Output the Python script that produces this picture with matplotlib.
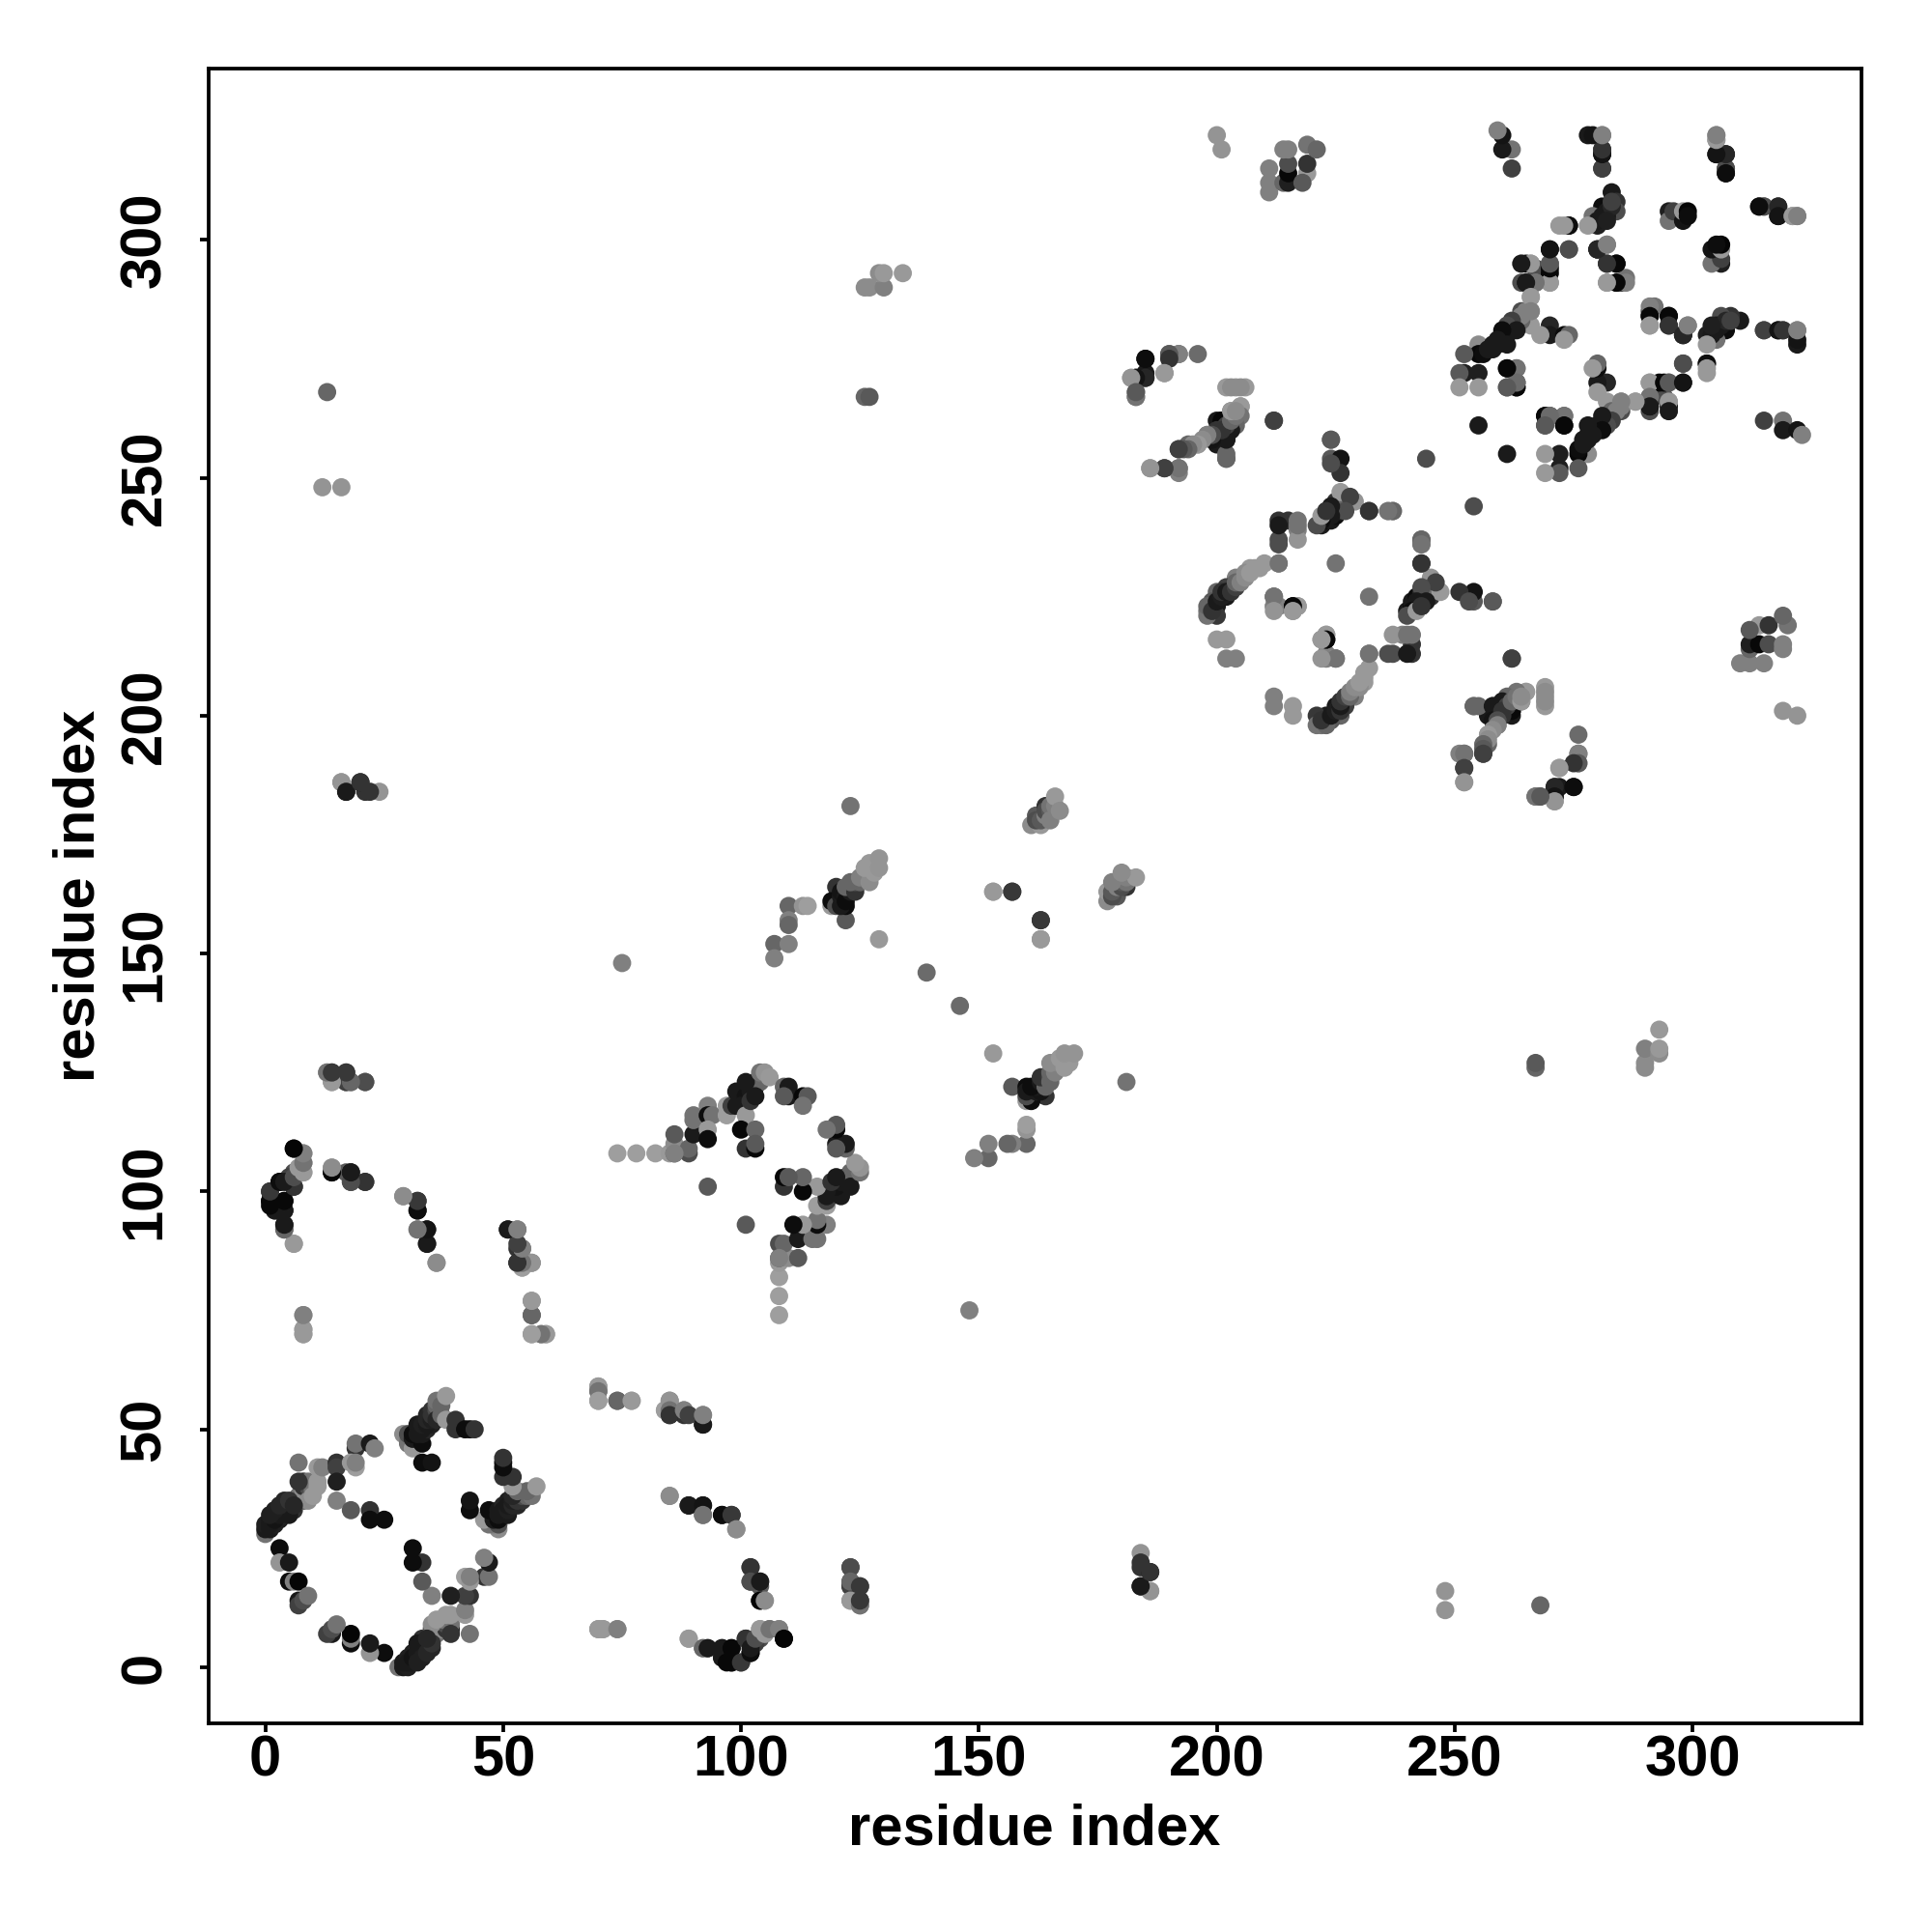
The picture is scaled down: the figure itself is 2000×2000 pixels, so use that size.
import matplotlib
matplotlib.use("Agg")
import matplotlib.pyplot as plt

# contacts as (residue i, residue j, grey level), i < j; the map is symmetric
first_domain = [
    (0, 28, .45), (0, 29, .1), (0, 30, .12), (1, 29, .1), (1, 31, .1), (2, 30, .12), (2, 32, .1),
    (3, 31, .12), (3, 33, .08), (4, 32, .15), (4, 34, .1), (5, 33, .12), (5, 34, .2), (6, 33, .2),
    (6, 35, .2), (7, 36, .45), (7, 35, .3), (8, 35, .35), (8, 37, .55), (8, 38, .2), (8, 39, .15),
    (9, 38, .3), (9, 39, .45), (9, 35, .55), (10, 37, .45), (10, 36, .6), (11, 38, .6), (7, 39, .2),
    (11, 39, .6), (11, 42, .6), (12, 42, .5), (7, 43, .45), (15, 43, .2), (15, 42, .25), (15, 39, .12),
    (15, 35, .5), (18, 33, .35), (22, 33, .2), (22, 31, .05), (25, 31, .05), (19, 46, .2), (19, 47, .45),
    (22, 47, .1), (23, 46, .5), (19, 42, .62), (18, 43, .6), (19, 43, .5), (3, 25, .05), (3, 22, .58),
    (5, 22, .1), (5, 18, .05), (6, 18, .5), (7, 18, .02), (7, 14, .1), (7, 13, .25), (8, 14, .3), (9, 15, .45),
    (1, 30, .1), (2, 31, .08), (3, 32, .1), (4, 33, .1), (5, 32, .1), (1, 32, .12), (2, 33, .12), (3, 34, .15),
    (4, 35, .15), (5, 35, .2), (6, 34, .15),
    (29, 49, .55), (30, 48, .5), (30, 47, .45), (30, 49, .3), (31, 46, .6), (31, 48, .1), (31, 49, .05),
    (32, 51, .1), (33, 47, .05), (33, 49, .1), (34, 50, .15), (34, 53, .15), (35, 51, .12), (35, 54, .2),
    (32, 49, .1), (33, 50, .1), (33, 51, .12), (34, 51, .1), (34, 52, .15), (35, 52, .12), (35, 53, .2),
    (36, 54, .3), (36, 55, .4),
    (36, 52, .15), (36, 56, .45), (37, 55, .4), (37, 53, .4), (38, 52, .6), (38, 57, .6), (40, 52, .2),
    (40, 50, .2), (42, 50, .05), (43, 50, .05), (44, 50, .2), (33, 43, .05), (35, 43, .08),
]
cross_domain = [
    (13, 125, .55), (14, 125, .2), (17, 125, .3), (14, 123, .6), (17, 123, .3), (18, 123, .4), (21, 123, .35),
    (6, 109, .03), (8, 108, .58), (8, 106, .45), (8, 104, .6), (7, 104, .55), (6, 104, .3), (5, 103, .25),
    (6, 101, .15), (3, 102, .03), (1, 100, .3), (4, 98, .03), (1, 98, .05), (2, 96, .3), (4, 96, .1),
    (4, 93, .1), (4, 92, .45), (6, 89, .62), (14, 104, .03), (14, 105, .62), (17, 104, .35), (18, 102, .3),
    (18, 104, .1), (21, 102, .2), (29, 99, .55), (32, 96, .05), (32, 98, .2), (32, 92, .5), (34, 89, .08),
    (34, 92, .05), (36, 85, .55), (51, 92, .1), (53, 92, .5), (53, 88, .2), (54, 88, .5), (53, 85, .1),
    (54, 84, .62), (54, 85, .5), (56, 85, .5), (56, 77, .6), (56, 74, .4), (56, 70, .6), (58, 70, .5),
    (59, 70, .6), (8, 74, .55), (8, 71, .6), (8, 70, .6),
    (70, 59, .6), (70, 58, .45), (70, 56, .62), (74, 56, .4), (77, 56, .6), (84, 54, .62), (85, 56, .58),
    (85, 54, .45), (85, 53, .2), (88, 54, .5), (89, 53, .25), (92, 51, .1), (92, 53, .5),
    (85, 36, .55), (89, 34, .1), (92, 34, .08), (92, 32, .45), (96, 32, .05), (98, 32, .22), (99, 29, .55),
    (102, 21, .2), (102, 18, .3), (104, 18, .1), (104, 14, .02), (105, 14, .55),
    (123, 21, .3), (123, 17, .25), (123, 18, .4), (125, 17, .22), (123, 14, .6), (125, 13, .45), (125, 14, .22),
    (70, 8, .6), (71, 8, .6), (74, 8, .5), (89, 6, .6), (92, 4, .4), (93, 4, .1), (96, 2, .1), (96, 4, .1),
    (98, 4, .03), (97, 1, .03), (98, 1, .03), (100, 1, .22), (102, 3, .05), (101, 6, .2), (102, 4, .1),
    (103, 6, .3), (104, 8, .6), (105, 7, .6), (106, 8, .45), (108, 8, .5), (109, 6, .02),
    (184, 24, .58), (184, 21, .2), (184, 17, .1), (186, 20, .1), (186, 16, .58), (16, 186, .58), (17, 184, .1),
    (20, 186, .2), (22, 184, .2), (148, 75, .5), (13, 268, .4), (12, 248, .58), (16, 248, .58),
]
second_domain = [
    (74, 108, .62), (78, 108, .62), (82, 108, .62), (85, 108, .6), (86, 108, .35), (86, 110, .55), (86, 112, .35),
    (89, 108, .3), (89, 109, .4), (90, 112, .1), (90, 116, .45), (90, 115, .45), (93, 118, .5), (93, 116, .05),
    (94, 116, .45), (93, 113, .6), (93, 111, .05), (97, 118, .62), (97, 116, .62), (98, 118, .25), (99, 121, .1),
    (99, 118, .1), (100, 120, .1), (101, 120, .08), (102, 121, .1), (102, 122, .1), (103, 122, .1), (103, 123, .3),
    (104, 124, .5), (105, 124, .6), (104, 123, .4),
    (100, 118, .1), (101, 116, .6), (101, 123, .1), (102, 119, .2), (103, 120, .1), (100, 113, .03), (103, 113, .4),
    (101, 109, .2), (103, 109, .03), (103, 110, .35), (104, 125, .45), (105, 125, .58), (106, 124, .6),
    (109, 122, .4), (110, 122, .1), (110, 120, .1), (109, 120, .35), (113, 120, .03), (114, 120, .35),
    (113, 118, .45), (93, 101, .35), (108, 86, .5),
]
helix_contacts = [
    (123, 181, .45), (110, 160, .4), (113, 160, .58), (114, 160, .62), (110, 157, .5), (110, 156, .4),
    (107, 152, .4), (110, 152, .5), (107, 149, .5), (122, 157, .35), (119, 160, .6), (120, 161, .1), (120, 164, .2),
    (119, 161, .05), (120, 160, .3), (122, 160, .05), (121, 162, .1), (121, 160, .1), (121, 163, .08), (122, 162, .1),
    (122, 161, .05), (123, 163, .1), (123, 164, .15), (122, 164, .4), (124, 163, .2), (124, 164, .2), (124, 165, .3),
    (123, 165, .4), (125, 165, .4), (125, 166, .5), (126, 166, .5), (127, 165, .55), (127, 167, .55), (128, 167, .6),
    (126, 168, .6), (127, 169, .6), (128, 169, .6), (129, 168, .58), (129, 170, .58), (129, 153, .6), (139, 146, .42),
    (153, 163, .6), (157, 163, .22), (163, 157, .22), (163, 153, .6),
    (161, 177, .55), (162, 179, .35), (163, 177, .6), (162, 178, .3), (163, 178, .35), (164, 179, .5), (164, 181, .2),
    (164, 180, .3), (165, 180, .35), (165, 181, .45), (166, 181, .5), (165, 178, .5),
    (166, 183, .6), (167, 180, .55),
]
loop_contacts = [
    (126, 290, .55), (127, 290, .55), (130, 290, .5), (129, 293, .55), (130, 293, .6), (134, 293, .6),
    (126, 267, .4), (127, 267, .35),
    (182, 271, .6), (183, 271, .03), (185, 271, .2), (185, 272, .1), (183, 268, .35), (183, 267, .42),
    (185, 275, .05), (189, 272, .55), (190, 276, .55), (192, 276, .4), (196, 276, .42),
    (201, 262, .1), (200, 262, .1), (202, 262, .35), (202, 260, .2), (199, 259, .1), (202, 258, .2), (198, 259, .5),
    (200, 259, .15), (201, 260, .1), (201, 261, .2), (203, 262, .3),
    (200, 257, .1), (202, 255, .4), (202, 254, .4), (196, 257, .6), (194, 257, .4), (192, 256, .2),
    (192, 252, .4), (192, 251, .5), (189, 252, .22), (186, 252, .6),
    (203, 264, .5), (203, 263, .45), (204, 263, .5), (204, 264, .55), (205, 265, .6),
    (202, 269, .6), (204, 269, .58), (206, 269, .6),
    (212, 262, .25), (224, 258, .4), (224, 254, .35), (226, 254, .08), (226, 251, .2), (244, 254, .3),
    (222, 240, .1), (223, 241, .05), (223, 243, .1), (224, 241, .1), (225, 242, .05), (225, 243, .1), (225, 245, .2),
    (226, 243, .15), (226, 245, .3), (227, 245, .3), (227, 246, .4),
    (226, 247, .6), (229, 245, .58), (228, 246, .25), (227, 243, .3), (224, 244, .1), (224, 242, .1),
    (222, 241, .05), (221, 240, .3), (222, 242, .6), (232, 243, .2), (236, 243, .6), (237, 243, .4),
    (243, 237, .4), (243, 236, .45), (243, 232, .2),
]
third_domain = [
    (213, 241, .2), (215, 241, .2), (217, 241, .45), (217, 239, .5), (217, 237, .58), (213, 237, .3), (213, 236, .3),
    (213, 232, .4), (225, 232, .45), (225, 212, .45), (210, 232, .6), (207, 231, .6), (205, 229, .5), (204, 229, .5),
    (203, 227, .3), (202, 227, .25), (200, 226, .4), (202, 225, .1), (200, 223, .1), (199, 224, .35), (200, 221, .22),
    (198, 221, .45), (198, 222, .45), (198, 223, .4), (199, 222, .2), (200, 224, .1), (201, 225, .12), (201, 226, .2),
    (202, 226, .1), (203, 226, .2), (204, 227, .25), (204, 228, .4), (205, 228, .5), (206, 229, .55), (206, 230, .55),
    (207, 230, .6), (208, 231, .6), (209, 231, .6),
    (212, 225, .5), (213, 223, .5), (212, 223, .6), (216, 223, .03), (217, 223, .6), (216, 222, .6),
    (200, 216, .6), (202, 216, .6), (202, 212, .5), (204, 212, .5), (223, 217, .6), (223, 216, .03), (222, 216, .6),
    (223, 212, .5), (225, 212, .45), (222, 212, .58), (213, 232, .45),
    (240, 213, .1), (240, 217, .45), (243, 223, .2),
    (253, 224, .3), (258, 224, .35), (262, 212, .25), (269, 205, .55), (269, 203, .55), (265, 205, .6),
    (263, 205, .45), (261, 204, .4), (262, 201, .03), (260, 203, .1), (254, 202, .4), (258, 202, .1),
    (258, 199, .08), (260, 200, .2), (261, 202, .25), (260, 201, .2), (262, 203, .4), (263, 204, .45), (264, 203, .6),
    (264, 204, .55), (259, 199, .3), (259, 198, .5), (258, 197, .55), (257, 196, .6), (257, 195, .55), (256, 194, .4),
    (256, 193, .35), (256, 192, .25), (252, 192, .45), (252, 189, .25), (252, 186, .58),
    (276, 192, .5), (276, 190, .35), (275, 190, .2), (272, 189, .6), (275, 185, .05), (271, 185, .15), (271, 183, .08),
    (271, 182, .58), (267, 183, .45), (268, 183, .35),
    (211, 315, .5), (211, 312, .5), (211, 310, .5), (214, 312, .4), (215, 312, .12), (215, 314, .03), (215, 316, .3),
    (214, 319, .5), (215, 319, .5), (219, 314, .6), (219, 316, .2), (218, 312, .35), (219, 320, .45), (221, 319, .4),
    (200, 322, .58), (201, 319, .58),
]
fourth_domain = [
    (270, 298, .08), (274, 298, .3), (280, 298, .15), (282, 299, .5), (282, 295, .2), (284, 295, .03), (282, 291, .6),
    (284, 291, .08), (285, 291, .25), (286, 292, .45), (280, 298, .1),
    (264, 295, .6), (265, 295, .03), (266, 295, .6), (267, 294, .3), (270, 295, .4), (270, 293, .03),
    (264, 291, .3), (265, 291, .03), (267, 291, .45), (270, 291, .6), (266, 288, .6), (266, 285, .55), (264, 285, .3),
    (266, 282, .6), (270, 282, .15), (270, 280, .1), (268, 280, .6), (273, 280, .05), (274, 280, .4), (273, 279, .6),
    (255, 278, .55), (255, 276, .03), (252, 276, .35), (255, 272, .12), (255, 269, .6), (252, 272, .12), (251, 272, .35),
    (256, 276, .05), (257, 277, .1), (258, 277, .1), (259, 278, .1), (260, 279, .05), (260, 280, .1), (261, 280, .1),
    (262, 281, .15), (262, 282, .2), (263, 283, .3), (263, 282, .3), (264, 283, .4), (264, 284, .5), (265, 285, .5),
    (262, 283, .25), (261, 282, .3), (263, 281, .1), (260, 281, .05), (259, 279, .1), (261, 278, .1), (258, 278, .1),
    (251, 269, .6), (261, 273, .03), (263, 273, .4), (263, 270, .35), (261, 269, .35), (263, 269, .1),
    (255, 261, .1), (263, 270, .4), (273, 263, .45), (269, 263, .03), (270, 263, .42), (269, 261, .35), (273, 261, .03),
    (278, 322, .1), (281, 322, .5), (281, 319, .25), (281, 318, .05), (281, 315, .3),
    (305, 322, .5), (305, 321, .55), (305, 318, .05), (307, 318, .1), (307, 314, .03), (307, 315, .25),
    (283, 310, .1), (284, 308, .2), (281, 307, .05), (284, 306, .3), (282, 305, .1), (279, 305, .45), (280, 303, .12),
    (280, 304, .1), (281, 305, .1), (282, 306, .1), (283, 307, .15), (283, 308, .25),
    (282, 304, .12), (278, 303, .6), (274, 303, .05), (272, 303, .6),
    (295, 306, .12), (295, 304, .45), (296, 306, .25), (298, 304, .08), (298, 306, .6), (299, 306, .02), (299, 305, .05),
    (315, 307, .3), (314, 307, .05), (318, 307, .15), (318, 305, .08), (321, 305, .6), (322, 305, .5),
    (291, 286, .5), (291, 284, .03), (291, 282, .6), (295, 284, .03), (295, 282, .2), (298, 280, .15), (299, 282, .5),
    (281, 315, .25), (281, 318, .08), (281, 319, .2), (279, 322, .08), (281, 322, .5),
    (262, 315, .25), (262, 319, .45), (260, 319, .1), (260, 322, .08), (259, 323, .5),
    (291, 270, .6), (294, 270, .03), (295, 270, .35), (298, 270, .08), (298, 274, .3), (303, 274, .05), (303, 273, .6),
    (291, 267, .45), (291, 265, .1), (295, 266, .6), (295, 264, .1), (288, 266, .6), (285, 266, .5),
]
all_groups = [first_domain, cross_domain, second_domain, helix_contacts, loop_contacts, third_domain, fourth_domain]

tick_values = [0, 50, 100, 150, 200, 250, 300]

plt.rcParams['font.family'] = ['Liberation Sans', 'DejaVu Sans']
plt.rcParams['font.weight'] = 'bold'

fig = plt.figure(figsize=(10, 10), dpi=200)
ax = fig.add_axes([216 / 2000, 216 / 2000, 1711 / 2000, 1713 / 2000])

for group in all_groups:
    xs, ys, cols = [], [], []
    for i, j, g in group:
        xs += [i, j]
        ys += [j, i]
        cols += [str(g), str(g)]
    ax.scatter(xs, ys, s=46, c=cols, linewidths=0, clip_on=True)

ax.set_xlim(-11.9, 335.5)
ax.set_ylim(-11.8, 336)
ax.set_xticks(tick_values)
ax.set_yticks(tick_values)

for side in ax.spines.values():
    side.set_linewidth(1.35)
ax.tick_params(axis='x', length=3.2, width=1.35, labelsize=21.5, pad=0.8)
ax.tick_params(axis='y', length=3.2, width=1.35, labelsize=21.5, pad=10.5)
for lab in ax.get_yticklabels():
    lab.set_rotation(90)
    lab.set_va('center')

ax.set_xlabel('residue index', fontsize=21.5, fontweight='bold', va='center')
ax.set_ylabel('residue index', fontsize=21.5, fontweight='bold', va='center')
ax.xaxis.set_label_coords(0.4997, -0.0645)
ax.yaxis.set_label_coords(-0.0785, 0.5)

fig.savefig('out.png', dpi=200)
